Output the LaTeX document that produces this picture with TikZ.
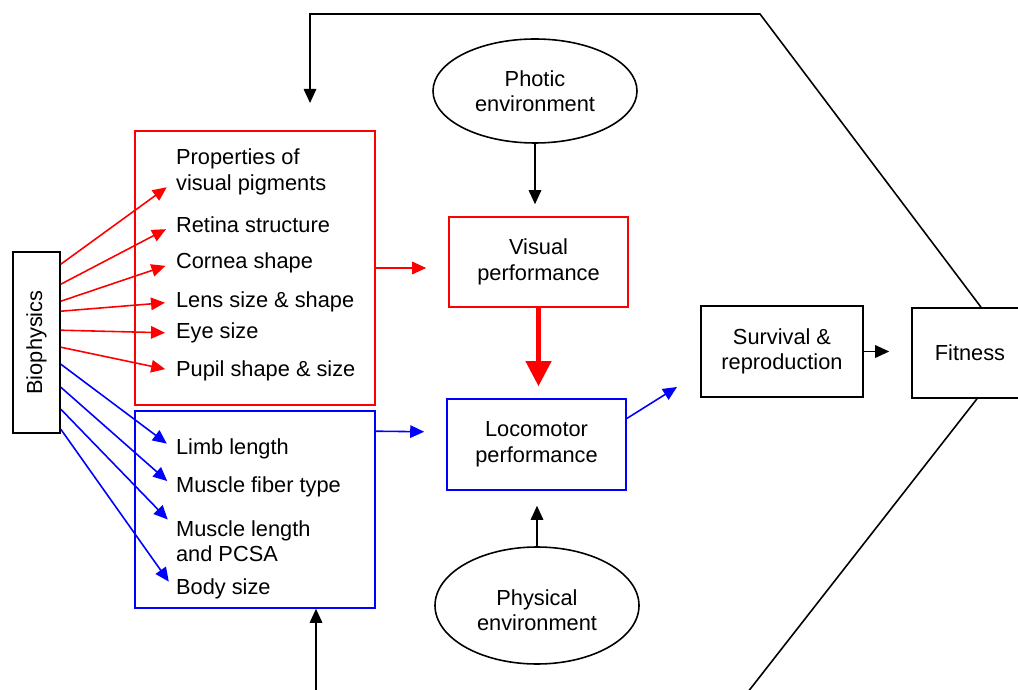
\documentclass[tikz,border=0pt]{standalone}
\usepackage{fontspec}
\setmainfont{Liberation Sans}
\usetikzlibrary{shapes.geometric,arrows.meta,calc}

\begin{document}
\begin{tikzpicture}[x=0.2mm, y=-0.2mm, font=\fontsize{12.4}{14.5}\selectfont,
  box/.style={draw, line width=0.9pt, minimum width=35.8mm, minimum height=18mm, align=center},
  env/.style={draw, ellipse, line width=0.9pt, inner sep=0pt, minimum width=40.8mm, align=center},
  item/.style={anchor=west, align=left, inner sep=1pt},
  arr/.style={line width=0.9pt, -{Triangle[length=2.8mm,width=2.5mm]}},
  redarr/.style={arr, red},
  bluearr/.style={arr, blue},
  bigarr/.style={red, line width=2.3pt, -{Triangle[length=5mm,width=5mm]}}]

\useasboundingbox (0,0) rectangle (1018,690);
\clip (0,0) rectangle (1018,690);

% boxes
\node[draw, line width=0.9pt, minimum width=9.4mm, minimum height=36.2mm, inner sep=0pt] (bio) at (36.5,342.5) {\rotatebox{90}{Biophysics}};
\node[draw=red, line width=0.9pt, minimum width=48mm, minimum height=54.8mm] (redbox) at (255,268) {};
\node[draw=blue, line width=0.9pt, minimum width=48mm, minimum height=39.4mm] (bluebox) at (255,509.5) {};

\node[env, minimum height=20.8mm] (photic) at (535,91) {\rule{0pt}{3mm}Photic\\environment};
\node[env, minimum height=23.4mm] (phys) at (537,605.5) {\rule{0pt}{5mm}Physical\\environment};
\node[box, draw=red] (vis) at (538.5,262) {Visual\\performance};
\node[box, draw=blue, minimum height=18.2mm] (loco) at (536.5,444.5) {Locomotor\\performance};
\node[box, minimum width=32.4mm, minimum height=18.2mm] (surv) at (782,351.5) {Survival \&\\reproduction};
\node[box, minimum width=23.2mm] (fit) at (970,353) {Fitness};

% traits
\node[item] (pig) at (174,172) {Properties of\\visual pigments};
\node[item] (ret) at (174,225) {Retina structure};
\node[item] (cor) at (174,263) {Cornea shape};
\node[item] (lens) at (174,302) {Lens size \& shape};
\node[item] (eye) at (174,333) {Eye size};
\node[item] (pup) at (174,371) {Pupil shape \& size};
\node[item] (limb) at (174,449) {Limb length};
\node[item] (fib) at (174,487) {Muscle fiber type};
\node[item] (msl) at (174,541) {Muscle length\\and PCSA};
\node[item] (body) at (174,589) {Body size};

\coordinate (pigtip) at ($(pig.west)+(0,10)$);
\coordinate (msltip) at ($(msl.west)+(0,-15)$);

% biophysics -> traits
\foreach \s/\t in {13/pigtip, 33/ret.west, 50/cor.west, 60/lens.west, 79/eye.west, 96/pup.west}
  \draw[redarr, shorten >=1.8mm] ($(bio.north east)+(0,\s)$) -- (\t);
\foreach \s/\t in {113/limb.west, 136/fib.west, 158/msltip, 178/body.west}
  \draw[bluearr, shorten >=1.8mm] ($(bio.north east)+(0,\s)$) -- (\t);

% performance
\draw[redarr, shorten >=4.4mm] (redbox.east) -- (redbox.east -| vis.west);
\draw[bluearr, shorten >=4.4mm] ($(bluebox.north east)+(0,21)$) -- ($(loco.west)+(0,-12.5)$);
\draw[arr, shorten >=2.4mm] (photic.south) -- (photic.south |- vis.north);
\draw[arr, shorten >=3mm] (phys.north) -- (phys.north |- loco.south);
\draw[bigarr, shorten >=2.4mm] (vis.south) -- (vis.south |- loco.north);

\coordinate (out) at (677,387);
\draw[bluearr] ($(loco.east)+(0,-26)$) -- (out);
\draw[arr, shorten >=4.4mm] (surv.east) -- (surv.east -| fit.west);

% feedback
\coordinate (fb) at (310,103);
\draw[arr] ($(fit.north)+(11,0)$) -- (760,14) -| (fb);
\draw[arr] ($(fit.south)+(7,0)$) -- (726,720) -| ($(bluebox.south)+(61,0)$);

\end{tikzpicture}
\end{document}
